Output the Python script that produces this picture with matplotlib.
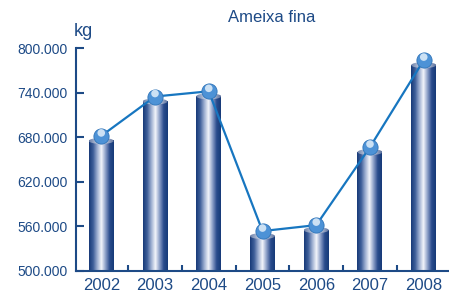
import numpy as np
import matplotlib
matplotlib.use("Agg")
import matplotlib.pyplot as plt
from matplotlib.patches import Ellipse
from matplotlib.colors import LinearSegmentedColormap
import matplotlib.transforms as mtransforms
from matplotlib import font_manager

years = ["2002", "2003", "2004", "2005", "2006", "2007", "2008"]
kg = [675000, 728000, 735000, 547000, 555000, 660000, 777000]
yticks = [500000, 560000, 620000, 680000, 740000, 800000]
ylabels = ["500.000", "560.000", "620.000", "680.000", "740.000", "800.000"]

navy = "#1d4a86"
line_blue = "#1776c0"

names = {f.name for f in font_manager.fontManager.ttflist}
narrow = "Liberation Sans Narrow" in names
plt.rcParams['font.family'] = ['Liberation Sans', 'DejaVu Sans']

fig = plt.figure(figsize=(4.49, 2.94), dpi=100)
ax = fig.add_axes([76/449, 23/294, 1 - 76/449, (271-48)/294])

# cylinder shading, dark edges with a highlight right of centre
cyl = LinearSegmentedColormap.from_list("cyl", ["#173a78", "#3f5f9a", "#9fb0d2", "#f4f6fb", "#8c9fc8", "#2a4c8c", "#163a78"])
grad = np.linspace(0, 1, 128).reshape(1, -1)
cap_cmap = LinearSegmentedColormap.from_list("cap", ["#6b7fa8", "#a9b6d0", "#e2e7f1", "#a3b1cd", "#5c719d"])

w = 0.465
x = np.arange(len(years))
cap_h = 8000
for xi, v in zip(x, kg):
    ax.imshow(grad, cmap=cyl, extent=[xi - w/2, xi + w/2, 500000, v], aspect='auto', zorder=2)
    cap = Ellipse((xi, v), w, cap_h, facecolor='none', edgecolor='none')
    ax.add_patch(cap)
    im2 = ax.imshow(grad, cmap=cap_cmap, extent=[xi - w/2, xi + w/2, v - cap_h, v + cap_h], aspect='auto', zorder=3)
    im2.set_clip_path(cap)

# balls sit a little above the cylinder tops
off = ax.transData + mtransforms.ScaledTranslation(0, 5/100, fig.dpi_scale_trans)
ax.plot(x, kg, color=line_blue, lw=1.6, transform=off, zorder=4, clip_on=False)
ax.scatter(x, kg, s=120, color="#4d92d6", edgecolors="#2f74b8", linewidths=0.6, transform=off, zorder=5, clip_on=False)
hl = ax.transData + mtransforms.ScaledTranslation(0, 8/100, fig.dpi_scale_trans)
ax.scatter(x, kg, s=30, color="#dbeaf8", edgecolors='none', alpha=0.9, transform=hl, zorder=6, clip_on=False)

ax.set_xlim(-0.47, 6.47)
ax.set_ylim(500000, 800000)
ax.set_yticks(yticks)
if narrow:
    ax.set_yticklabels(ylabels, family=['Liberation Sans Narrow', 'DejaVu Sans'], fontsize=12.5, color=navy)
else:
    ax.set_yticklabels(ylabels, fontsize=10, color=navy)
ax.set_xticks(x)
ax.set_xticklabels(years, fontsize=12, color=navy)
ax.set_xticks(x[:-1] + 0.5, minor=True)
ax.tick_params(axis='x', which='major', length=0, pad=5)
ax.tick_params(axis='x', which='minor', direction='in', length=4, width=1.5, color=navy)
ax.tick_params(axis='y', direction='in', length=6, width=1.5, color=navy, pad=6)
for s in ['top', 'right']:
    ax.spines[s].set_visible(False)
for s in ['left', 'bottom']:
    ax.spines[s].set_color(navy)
    ax.spines[s].set_linewidth(1.5)

fig.text(74/449, 1 - 32/294, "kg", fontsize=13, color=navy, ha='left', va='center')
fig.text(272/449, 1 - 18/294, "Ameixa fina", fontsize=12, color=navy, ha='center', va='center')

fig.savefig("out.png", dpi=100)
